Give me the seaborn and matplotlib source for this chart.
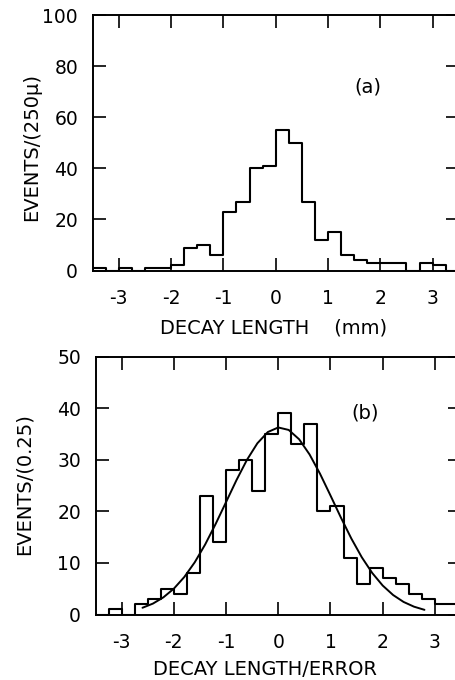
import numpy as np
import pandas as pd
import matplotlib
matplotlib.use("Agg")
import matplotlib.pyplot as plt
import seaborn as sns

# ---------------- data ----------------
bin_start = -3.5
bin_width = 0.25
# panel (a): events per 250 micron of decay length
counts_a = [1, 0, 1, 0, 1, 1, 2, 9, 10, 6, 23, 27, 40, 41,
            55, 50, 27, 12, 15, 6, 4, 3, 3, 3, 0, 3, 2, 0]
# panel (b): events per 0.25 of decay length / error
counts_b = [0, 1, 0, 2, 3, 5, 4, 8, 23, 14, 28, 30, 24, 35,
            39, 33, 37, 20, 21, 11, 6, 9, 7, 6, 4, 3, 2, 2]
# fitted curve in panel (b)
fit_x = [-2.6, -2.4, -2.2, -2.0, -1.8, -1.6, -1.4, -1.2, -1.0, -0.8,
         -0.6, -0.4, -0.2, 0.0, 0.2, 0.4, 0.6, 0.8, 1.0, 1.2,
         1.4, 1.6, 1.8, 2.0, 2.2, 2.4, 2.6, 2.8]
fit_y = [1.31, 2.12, 3.33, 5.01, 7.27, 10.12, 13.58, 17.55, 21.80, 26.07,
         29.99, 33.21, 35.39, 36.28, 35.80, 33.99, 31.04, 27.30, 23.09, 18.80,
         14.73, 11.10, 8.05, 5.62, 3.78, 2.44, 1.52, 0.91]
xticks = [-3, -2, -1, 0, 1, 2, 3]
yticks_a = [0, 20, 40, 60, 80, 100]
yticks_b = [0, 10, 20, 30, 40, 50]

# ---------------- style ----------------
sns.set_style("ticks")
plt.rcParams["font.family"] = ["DejaVu Sans"]
plt.rcParams["axes.unicode_minus"] = False
plt.rcParams["axes.linewidth"] = 1.4
plt.rcParams["axes.edgecolor"] = "black"
plt.rcParams["text.color"] = "black"
plt.rcParams["axes.labelcolor"] = "black"
plt.rcParams["xtick.color"] = "black"
plt.rcParams["ytick.color"] = "black"

n_bins = len(counts_a)
edges = (bin_start + bin_width * np.arange(n_bins + 1)).tolist()
centers = [0.5 * (edges[i] + edges[i + 1]) for i in range(n_bins)]
df_a = pd.DataFrame({"x": centers, "n": counts_a})
df_b = pd.DataFrame({"x": centers, "n": counts_b})
df_fit = pd.DataFrame({"x": fit_x, "y": fit_y})

fig = plt.figure(figsize=(4.55, 6.8), dpi=100)
ax_a = fig.add_axes([0.2037, 0.6022, 0.8045, 0.3757])
ax_b = fig.add_axes([0.2099, 0.0963, 0.8033, 0.3791])

for ax, df, yt in ((ax_a, df_a, yticks_a), (ax_b, df_b, yticks_b)):
    sns.histplot(data=df, x="x", weights="n", bins=edges, element="step",
                 fill=False, color="black", linewidth=1.5, ax=ax)
    ax.set_xlim(-3.5, 3.5)
    ax.set_ylim(yt[0], yt[-1])
    ax.set_xticks(xticks)
    ax.set_xticklabels([str(t) for t in xticks])
    ax.set_yticks(yt)
    ax.set_yticklabels([str(t) for t in yt])
    ax.tick_params(direction="in", length=9.5, width=1.2, top=True, right=True,
                   labelsize=13.5, labelright=False, labeltop=False)
    ax.tick_params(axis="x", pad=13)
    ax.tick_params(axis="y", pad=10.5)
    for s in ax.spines.values():
        s.set_visible(True)

sns.lineplot(data=df_fit, x="x", y="y", color="black", linewidth=1.4,
             ax=ax_b, sort=True)

ax_a.set_xlabel("DECAY LENGTH    (mm)", fontsize=14)
ax_a.xaxis.set_label_coords(0.495, -0.225)
ax_a.xaxis.label.set_va("center")
ax_a.set_ylabel("EVENTS/(250\u03bc)", fontsize=14)
ax_a.yaxis.set_label_coords(-0.168, 0.483)
ax_a.yaxis.label.set_va("center")

ax_b.set_xlabel("DECAY LENGTH/ERROR", fontsize=14)
ax_b.xaxis.set_label_coords(0.464, -0.215)
ax_b.xaxis.label.set_va("center")
ax_b.set_ylabel("EVENTS/(0.25)", fontsize=14)
ax_b.yaxis.set_label_coords(-0.196, 0.506)
ax_b.yaxis.label.set_va("center")

ax_a.text(1.77, 71.8, "(a)", fontsize=14, ha="center", va="center")
ax_b.text(1.67, 39.1, "(b)", fontsize=14, ha="center", va="center")

fig.savefig("out.png", dpi=100)
